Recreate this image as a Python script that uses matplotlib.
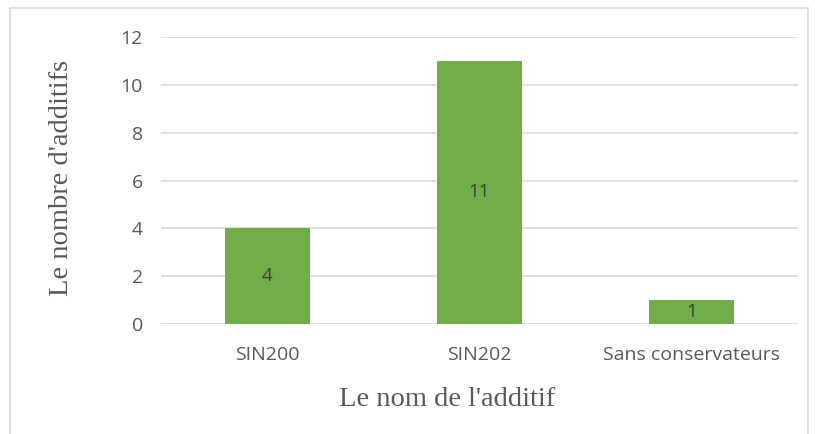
import matplotlib.pyplot as plt
from matplotlib.patches import Rectangle

# additives and how many products use each
categories = ["SIN200", "SIN202", "Sans conservateurs"]
counts = [4, 11, 1]
yticks = [0, 2, 4, 6, 8, 10, 12]

bar_color = "#70AD47"
text_color = "#595959"
grid_color = "#D9D9D9"

fig = plt.figure(figsize=(8.15, 4.34), dpi=100)
ax = fig.add_axes([161 / 815, 1 - 324 / 434, (798 - 161) / 815, (324 - 37) / 434])

x = range(len(categories))
bars = ax.bar(x, counts, width=0.4, color=bar_color, zorder=3)

for rect, v in zip(bars, counts):
    ax.text(rect.get_x() + rect.get_width() / 2, v / 2, str(v),
            ha="center", va="center", fontsize=13.5, color="#404040",
            family="Open Sans", zorder=4)

ax.set_xlim(-0.5, len(categories) - 0.5)
ax.set_ylim(0, 12)
ax.set_yticks(yticks)
ax.set_xticks(list(x))
ax.set_xticklabels(categories)
ax.yaxis.grid(True, color=grid_color, linewidth=1.2, zorder=0)

for s in ax.spines.values():
    s.set_visible(False)
ax.tick_params(length=0, colors=text_color, labelsize=14)
ax.tick_params(axis="y", pad=13)
ax.tick_params(axis="x", pad=16)
for lbl in ax.get_xticklabels() + ax.get_yticklabels():
    lbl.set_family("Open Sans")

ax.set_xlabel("Le nom de l'additif", family="Liberation Serif", fontsize=20.5,
              color=text_color, labelpad=10)
ax.xaxis.set_label_coords((447 - 161) / (798 - 161), -(400 - 324) / (324 - 37))
ax.xaxis.label.set_va("center")
ax.set_ylabel("Le nombre d'additifs", family="Liberation Serif", fontsize=20.5,
              color=text_color)
ax.yaxis.set_label_coords(-(161 - 62) / (798 - 161), (324 - 178) / (324 - 37))
ax.yaxis.label.set_va("center")

# light frame round the whole chart
fig.patches.append(Rectangle((10 / 815, -0.1), (808 - 10) / 815, 1.1 - 8 / 434,
                             transform=fig.transFigure, fill=False,
                             edgecolor="#D9D9D9", linewidth=1.2))

fig.savefig("out.png", dpi=100)
plt.close(fig)
